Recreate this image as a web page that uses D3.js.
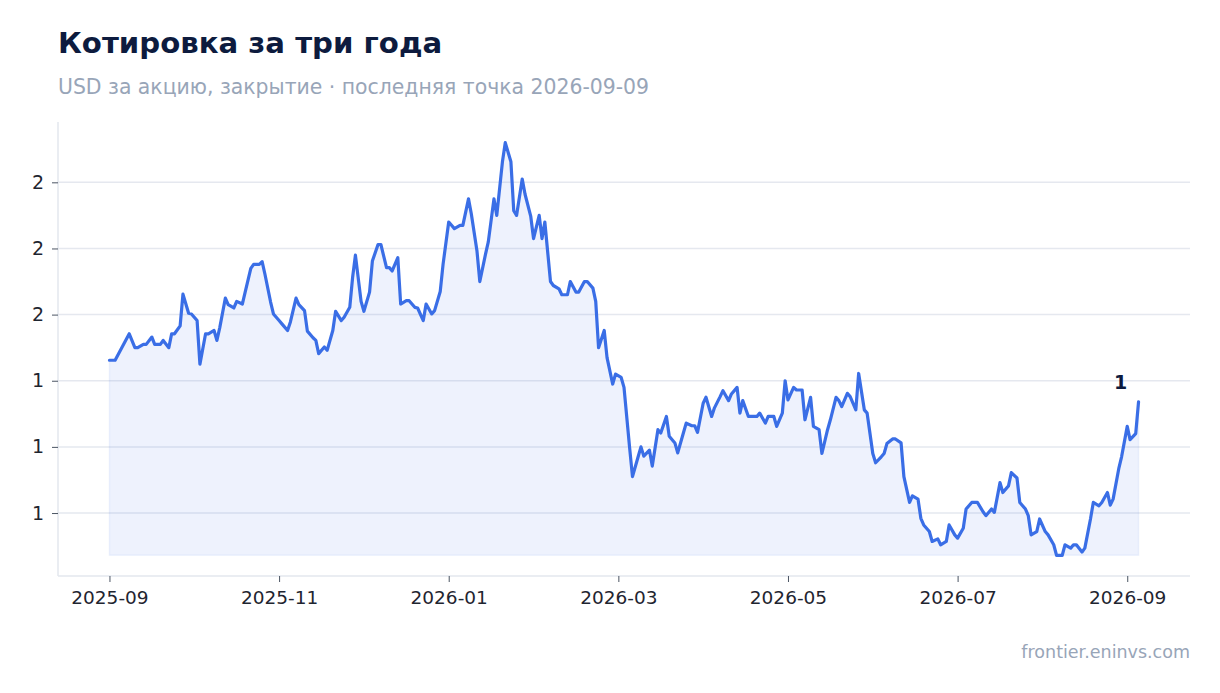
<!DOCTYPE html>
<html><head><meta charset="utf-8">
<script src="https://cdn.jsdelivr.net/npm/d3@7"></script>
<style>
html,body{margin:0;padding:0;background:#fff;}
svg{display:block;font-family:"DejaVu Sans",sans-serif;}
</style></head>
<body><svg id="chart" width="1220" height="693"></svg>
<script>
// ---- data ----
const startDate = "2025-09-10";
const dayOffset = [0,2,7,9,10,12,13,15,16,18,19,21,22,23,25,26,28,29,31,32,34,35,37,38,39,41,42,44,45,47,48,50,51,53,54,55,57,58,60,61,63,64,66,67,69,70,72,73,74,76,77,79,80,82,83,85,86,87,89,90,92,93,95,96,98,99,100,102,103,105,106,108,109,111,112,114,115,117,118,120,121,122,124,125,127,128,130,131,133,134,136,137,139,140,142,143,144,146,147,149,150,152,153,154,156,157,159,160,162,163,165,166,168,169,171,172,173,175,176,178,179,181,182,184,185,187,188,189,191,192,194,195,197,198,200,201,203,204,206,207,208,210,211,213,214,216,217,219,220,222,223,224,226,227,229,230,232,233,235,236,238,239,240,242,243,245,246,248,249,251,252,254,255,257,258,259,261,262,264,265,267,268,270,271,273,274,275,277,278,280,281,283,284,286,287,288,290,291,293,294,296,297,299,300,302,303,305,306,307,309,310,312,313,315,316,318,319,321,322,324,325,326,328,329,331,332,334,335,337,338,340,341,342,344,345,347,348,350,351,353,354,355,357,358,360,361,363,364];
const close = [1.431,1.431,1.471,1.450,1.450,1.455,1.455,1.466,1.455,1.455,1.461,1.450,1.471,1.471,1.483,1.531,1.502,1.501,1.491,1.425,1.471,1.471,1.476,1.461,1.480,1.525,1.515,1.510,1.520,1.516,1.534,1.570,1.576,1.576,1.580,1.561,1.519,1.501,1.491,1.486,1.476,1.489,1.525,1.515,1.506,1.475,1.465,1.461,1.441,1.451,1.446,1.476,1.505,1.491,1.496,1.511,1.556,1.590,1.520,1.505,1.534,1.581,1.606,1.606,1.571,1.571,1.566,1.586,1.516,1.521,1.521,1.511,1.510,1.491,1.516,1.501,1.506,1.535,1.576,1.640,1.635,1.630,1.635,1.635,1.675,1.652,1.596,1.550,1.591,1.610,1.675,1.650,1.731,1.760,1.731,1.657,1.650,1.705,1.682,1.649,1.615,1.650,1.615,1.640,1.550,1.544,1.539,1.530,1.530,1.550,1.534,1.534,1.550,1.550,1.540,1.520,1.450,1.476,1.435,1.395,1.410,1.405,1.390,1.298,1.255,1.285,1.300,1.286,1.295,1.271,1.326,1.321,1.346,1.316,1.306,1.291,1.321,1.336,1.332,1.332,1.322,1.366,1.375,1.346,1.359,1.376,1.385,1.370,1.380,1.390,1.351,1.370,1.346,1.346,1.346,1.351,1.336,1.346,1.346,1.331,1.351,1.400,1.371,1.390,1.386,1.386,1.341,1.375,1.331,1.326,1.290,1.326,1.341,1.375,1.370,1.361,1.381,1.376,1.356,1.411,1.356,1.351,1.290,1.276,1.285,1.290,1.305,1.312,1.312,1.306,1.255,1.216,1.226,1.221,1.192,1.182,1.172,1.157,1.161,1.152,1.157,1.182,1.167,1.162,1.177,1.206,1.216,1.216,1.216,1.202,1.196,1.206,1.201,1.246,1.231,1.241,1.261,1.253,1.216,1.206,1.196,1.167,1.172,1.191,1.172,1.167,1.152,1.136,1.136,1.152,1.147,1.152,1.152,1.141,1.147,1.191,1.216,1.211,1.216,1.231,1.212,1.221,1.267,1.285,1.331,1.311,1.320,1.368];
const yTickValues = [1.2, 1.3, 1.4, 1.5, 1.6, 1.7];
const xTickDayOffsets = [0, 60, 120, 180, 240, 300, 360];
const titleText = "Котировка за три года";
const subtitleText = "USD за акцию, закрытие · последняя точка 2026-09-09";
const sourceText = "frontier.eninvs.com";

// ---- build ----
const W = 1220, H = 693;
const m = {left: 58, right: 30, top: 122, bottom: 117};
const svg = d3.select("#chart");
const start = new Date(startDate + "T00:00:00Z");
const points = dayOffset.map((o, i) => ({date: d3.utcDay.offset(start, o), v: close[i]}));

const xExt = d3.extent(points, d => d.date);
const xSpan = xExt[1] - xExt[0];
const x = d3.scaleUtc()
  .domain([new Date(+xExt[0] - xSpan * 0.05), new Date(+xExt[1] + xSpan * 0.05)])
  .range([m.left, W - m.right]);

const yExt = d3.extent(points, d => d.v);
const ySpan = yExt[1] - yExt[0];
const y = d3.scaleLinear()
  .domain([yExt[0] - ySpan * 0.05, yExt[1] + ySpan * 0.05])
  .range([H - m.bottom, m.top]);

const lineColor = "#3a6ee6";

// title etc
svg.append("text").attr("x", 58).attr("y", 53)
  .attr("font-size", 29.2).attr("font-weight", "bold").attr("fill", "#0d1b3e")
  .text(titleText);
svg.append("text").attr("x", 58).attr("y", 94)
  .attr("font-size", 20.4).attr("fill", "#98a5b8")
  .text(subtitleText);
svg.append("text").attr("x", W - m.right).attr("y", 658)
  .attr("text-anchor", "end").attr("font-size", 17.5).attr("fill", "#98a5b8")
  .text(sourceText);

// grid
svg.append("g").selectAll("line").data(yTickValues).join("line")
  .attr("x1", m.left).attr("x2", W - m.right)
  .attr("y1", d => y(d)).attr("y2", d => y(d))
  .attr("stroke", "#e5e8ef").attr("stroke-width", 1.5);

// area
const area = d3.area().x(d => x(d.date)).y0(y(yExt[0])).y1(d => y(d.v));
svg.append("path").datum(points).attr("d", area)
  .attr("fill", lineColor).attr("fill-opacity", 0.085)
  .attr("stroke", lineColor).attr("stroke-opacity", 0.07).attr("stroke-width", 1.5);

// line
const line = d3.line().x(d => x(d.date)).y(d => y(d.v));
svg.append("path").datum(points).attr("d", line)
  .attr("fill", "none").attr("stroke", lineColor).attr("stroke-width", 3.2)
  .attr("stroke-linejoin", "round").attr("stroke-linecap", "round");

// axes
const yAxis = d3.axisLeft(y).tickValues(yTickValues).tickFormat(d3.format(".0f"))
  .tickSize(6).tickPadding(8);
const gy = svg.append("g").attr("transform", `translate(${m.left},0)`).call(yAxis);
gy.select(".domain").attr("stroke", "#e3e7ee").attr("stroke-width", 1.5)
  .attr("d", `M0,${m.top}V${H - m.bottom}`);
gy.selectAll(".tick line").attr("stroke", "#4b5563");
gy.selectAll(".tick text").attr("font-size", 19).attr("fill", "#1f2530")
  .attr("font-family", "DejaVu Sans, sans-serif");

const xTicks = xTickDayOffsets.map(o => d3.utcDay.offset(start, o));
const xAxis = d3.axisBottom(x).tickValues(xTicks).tickFormat(d3.utcFormat("%Y-%m"))
  .tickSize(6).tickPadding(9);
const gx = svg.append("g").attr("transform", `translate(0,${H - m.bottom})`).call(xAxis);
gx.select(".domain").attr("stroke", "#e3e7ee").attr("stroke-width", 1.5)
  .attr("d", `M${m.left},0H${W - m.right}`);
gx.selectAll(".tick line").attr("stroke", "#4b5563");
gx.selectAll(".tick text").attr("font-size", 18.5).attr("fill", "#1f2530")
  .attr("font-family", "DejaVu Sans, sans-serif");

// last value label
const last = points[points.length - 1];
svg.append("text").attr("x", x(last.date) - 18).attr("y", y(last.v) - 13)
  .attr("text-anchor", "middle").attr("font-size", 19).attr("font-weight", "bold")
  .attr("fill", "#0d1b3e").text(d3.format(".0f")(last.v));
</script>
</body></html>
